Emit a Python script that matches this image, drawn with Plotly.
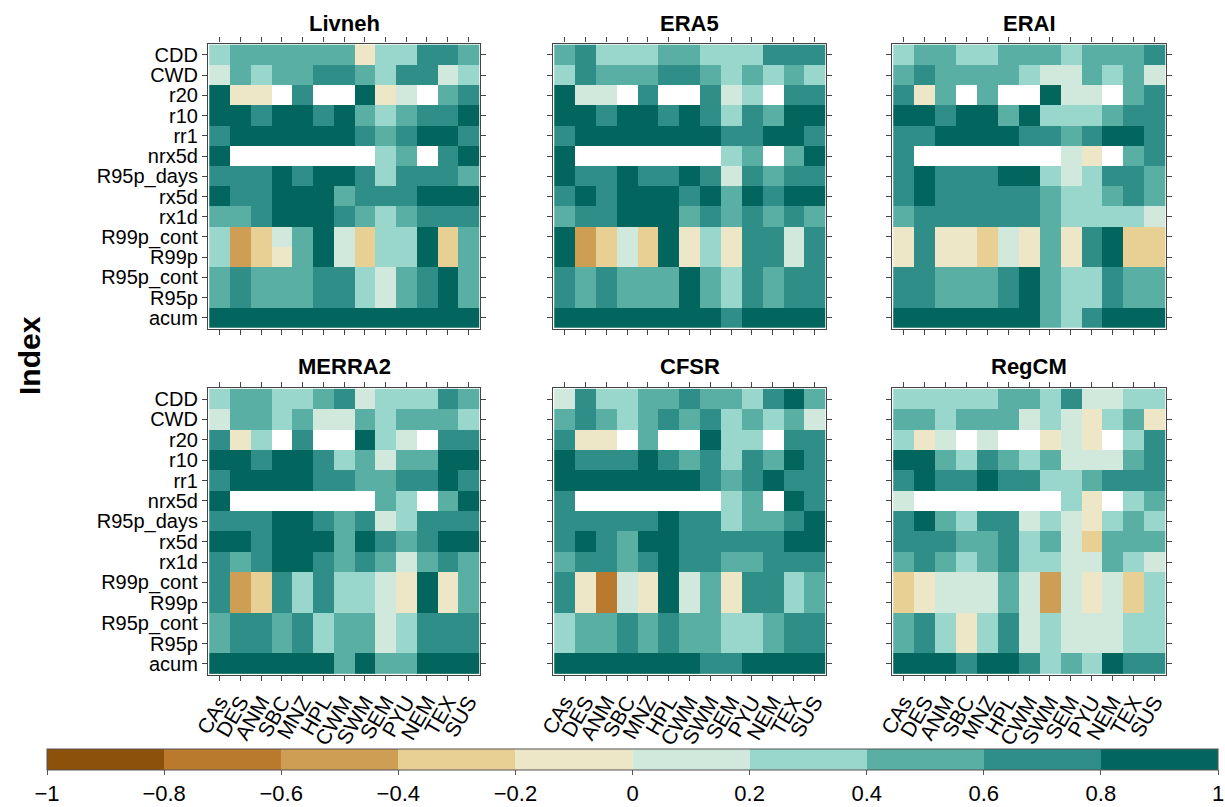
import plotly.graph_objects as go

# Climate indices (rows, top to bottom) and regions (columns)
indices = ["CDD", "CWD", "r20", "r10", "rr1", "nrx5d", "R95p_days", "rx5d",
           "rx1d", "R99p_cont", "R99p", "R95p_cont", "R95p", "acum"]
regions = ["CAs", "DES", "ANM", "SBC", "MNZ", "HPL", "CWM", "SWM", "SEM",
           "PYU", "NEM", "TEX", "SUS"]
datasets = ["Livneh", "ERA5", "ERAI", "MERRA2", "CFSR", "RegCM"]
N = None

livneh = [
    [0.3, 0.5, 0.5, 0.5, 0.5, 0.5, 0.5, -0.1, 0.3, 0.3, 0.7, 0.7, 0.5],
    [0.1, 0.5, 0.3, 0.5, 0.5, 0.7, 0.7, 0.5, 0.3, 0.7, 0.7, 0.1, 0.3],
    [0.9, -0.1, -0.1, N, 0.7, N, N, 0.9, -0.1, 0.1, N, 0.5, 0.7],
    [0.9, 0.9, 0.7, 0.9, 0.9, 0.7, 0.9, 0.5, 0.3, 0.5, 0.7, 0.7, 0.9],
    [0.7, 0.9, 0.9, 0.9, 0.9, 0.9, 0.9, 0.7, 0.5, 0.7, 0.9, 0.9, 0.7],
    [0.9, N, N, N, N, N, N, N, 0.3, 0.5, N, 0.7, 0.9],
    [0.7, 0.7, 0.7, 0.9, 0.7, 0.9, 0.9, 0.7, 0.3, 0.7, 0.7, 0.7, 0.5],
    [0.9, 0.7, 0.7, 0.9, 0.9, 0.9, 0.5, 0.7, 0.7, 0.7, 0.9, 0.9, 0.9],
    [0.5, 0.5, 0.7, 0.9, 0.9, 0.9, 0.7, 0.5, 0.3, 0.5, 0.7, 0.7, 0.7],
    [0.3, -0.5, -0.3, 0.1, 0.5, 0.9, 0.1, -0.3, 0.3, 0.3, 0.9, -0.3, 0.5],
    [0.3, -0.5, -0.3, -0.1, 0.5, 0.9, 0.1, -0.3, 0.3, 0.3, 0.9, -0.3, 0.5],
    [0.5, 0.7, 0.5, 0.5, 0.5, 0.7, 0.7, 0.3, 0.1, 0.5, 0.7, 0.9, 0.5],
    [0.5, 0.7, 0.5, 0.5, 0.5, 0.7, 0.7, 0.3, 0.1, 0.5, 0.7, 0.9, 0.5],
    [0.9, 0.9, 0.9, 0.9, 0.9, 0.9, 0.9, 0.9, 0.9, 0.9, 0.9, 0.9, 0.9],
]

era5 = [
    [0.5, 0.7, 0.3, 0.3, 0.3, 0.5, 0.5, 0.3, 0.3, 0.3, 0.7, 0.7, 0.7],
    [0.3, 0.7, 0.5, 0.5, 0.5, 0.7, 0.7, 0.5, 0.3, 0.5, 0.3, 0.5, 0.3],
    [0.9, 0.1, 0.1, N, 0.7, N, N, 0.7, 0.1, 0.3, N, 0.7, 0.7],
    [0.9, 0.9, 0.7, 0.9, 0.9, 0.7, 0.9, 0.7, 0.3, 0.7, 0.5, 0.9, 0.9],
    [0.7, 0.9, 0.9, 0.9, 0.9, 0.9, 0.9, 0.9, 0.7, 0.7, 0.9, 0.9, 0.7],
    [0.9, N, N, N, N, N, N, N, 0.3, 0.5, N, 0.5, 0.9],
    [0.9, 0.7, 0.7, 0.9, 0.7, 0.7, 0.9, 0.7, 0.1, 0.7, 0.5, 0.7, 0.7],
    [0.7, 0.9, 0.7, 0.9, 0.9, 0.9, 0.7, 0.9, 0.5, 0.9, 0.7, 0.9, 0.9],
    [0.5, 0.7, 0.7, 0.9, 0.9, 0.9, 0.5, 0.7, 0.5, 0.7, 0.5, 0.7, 0.5],
    [0.9, -0.5, -0.3, 0.1, -0.3, 0.9, -0.1, 0.3, -0.1, 0.7, 0.7, 0.1, 0.7],
    [0.9, -0.5, -0.3, 0.1, -0.3, 0.9, -0.1, 0.3, -0.1, 0.7, 0.7, 0.1, 0.7],
    [0.7, 0.5, 0.7, 0.5, 0.5, 0.5, 0.9, 0.5, 0.3, 0.7, 0.5, 0.7, 0.7],
    [0.7, 0.5, 0.7, 0.5, 0.5, 0.5, 0.9, 0.5, 0.3, 0.7, 0.5, 0.7, 0.7],
    [0.9, 0.9, 0.9, 0.9, 0.9, 0.9, 0.9, 0.9, 0.7, 0.9, 0.9, 0.9, 0.9],
]

erai = [
    [0.3, 0.5, 0.5, 0.3, 0.3, 0.5, 0.5, 0.5, 0.3, 0.5, 0.5, 0.5, 0.7],
    [0.5, 0.7, 0.5, 0.5, 0.5, 0.5, 0.3, 0.1, 0.1, 0.5, 0.3, 0.5, 0.1],
    [0.7, -0.1, 0.5, N, 0.5, N, N, 0.9, 0.1, 0.1, N, 0.5, 0.7],
    [0.9, 0.9, 0.7, 0.9, 0.9, 0.5, 0.9, 0.3, 0.3, 0.3, 0.5, 0.7, 0.7],
    [0.7, 0.7, 0.9, 0.9, 0.9, 0.9, 0.7, 0.7, 0.5, 0.7, 0.9, 0.9, 0.7],
    [0.7, N, N, N, N, N, N, N, 0.1, -0.1, N, 0.5, 0.7],
    [0.7, 0.9, 0.7, 0.7, 0.7, 0.9, 0.9, 0.3, 0.1, 0.3, 0.7, 0.7, 0.5],
    [0.7, 0.9, 0.7, 0.7, 0.7, 0.7, 0.7, 0.5, 0.3, 0.3, 0.5, 0.7, 0.5],
    [0.5, 0.7, 0.7, 0.7, 0.7, 0.7, 0.7, 0.5, 0.3, 0.3, 0.3, 0.3, 0.1],
    [-0.1, 0.7, -0.1, -0.1, -0.3, 0.1, -0.1, 0.5, -0.1, 0.7, 0.9, -0.3, -0.3],
    [-0.1, 0.7, -0.1, -0.1, -0.3, 0.1, -0.1, 0.5, -0.1, 0.7, 0.9, -0.3, -0.3],
    [0.7, 0.7, 0.5, 0.5, 0.5, 0.7, 0.9, 0.5, 0.3, 0.3, 0.7, 0.5, 0.5],
    [0.7, 0.7, 0.5, 0.5, 0.5, 0.7, 0.9, 0.5, 0.3, 0.3, 0.7, 0.5, 0.5],
    [0.9, 0.9, 0.9, 0.9, 0.9, 0.9, 0.9, 0.5, 0.3, 0.7, 0.9, 0.9, 0.9],
]

merra2 = [
    [0.3, 0.5, 0.5, 0.3, 0.3, 0.5, 0.7, 0.1, 0.3, 0.3, 0.3, 0.7, 0.5],
    [0.1, 0.5, 0.5, 0.3, 0.5, 0.1, 0.1, 0.5, 0.3, 0.5, 0.5, 0.5, 0.3],
    [0.7, -0.1, 0.3, N, 0.7, N, N, 0.9, 0.3, 0.1, N, 0.7, 0.7],
    [0.9, 0.9, 0.7, 0.9, 0.9, 0.7, 0.3, 0.5, 0.1, 0.5, 0.5, 0.9, 0.9],
    [0.7, 0.9, 0.9, 0.9, 0.9, 0.7, 0.7, 0.5, 0.5, 0.7, 0.7, 0.9, 0.7],
    [0.9, N, N, N, N, N, N, N, 0.5, 0.3, N, 0.5, 0.9],
    [0.7, 0.7, 0.7, 0.9, 0.9, 0.7, 0.5, 0.7, 0.1, 0.3, 0.7, 0.7, 0.7],
    [0.9, 0.9, 0.7, 0.9, 0.9, 0.9, 0.5, 0.9, 0.7, 0.5, 0.7, 0.9, 0.9],
    [0.7, 0.5, 0.7, 0.9, 0.9, 0.7, 0.5, 0.7, 0.5, 0.1, 0.5, 0.7, 0.5],
    [0.7, -0.5, -0.3, 0.7, 0.3, 0.7, 0.3, 0.3, 0.1, -0.1, 0.9, -0.1, 0.5],
    [0.7, -0.5, -0.3, 0.7, 0.3, 0.7, 0.3, 0.3, 0.1, -0.1, 0.9, -0.1, 0.5],
    [0.5, 0.7, 0.7, 0.5, 0.7, 0.3, 0.5, 0.5, 0.1, 0.3, 0.7, 0.7, 0.7],
    [0.5, 0.7, 0.7, 0.5, 0.7, 0.3, 0.5, 0.5, 0.1, 0.3, 0.7, 0.7, 0.7],
    [0.9, 0.9, 0.9, 0.9, 0.9, 0.9, 0.5, 0.9, 0.5, 0.5, 0.9, 0.9, 0.9],
]

cfsr = [
    [0.1, 0.7, 0.3, 0.3, 0.5, 0.5, 0.7, 0.5, 0.5, 0.3, 0.7, 0.9, 0.5],
    [0.5, 0.7, 0.5, 0.3, 0.5, 0.7, 0.5, 0.7, 0.3, 0.5, 0.3, 0.5, 0.1],
    [0.7, -0.1, -0.1, N, 0.5, N, N, 0.9, 0.3, 0.3, N, 0.7, 0.7],
    [0.9, 0.7, 0.7, 0.7, 0.9, 0.7, 0.5, 0.7, 0.3, 0.7, 0.5, 0.9, 0.7],
    [0.9, 0.9, 0.9, 0.9, 0.9, 0.9, 0.9, 0.7, 0.5, 0.7, 0.9, 0.7, 0.7],
    [0.7, N, N, N, N, N, N, N, 0.3, 0.5, N, 0.9, 0.7],
    [0.7, 0.7, 0.7, 0.7, 0.7, 0.9, 0.7, 0.7, 0.3, 0.5, 0.5, 0.7, 0.9],
    [0.7, 0.9, 0.7, 0.5, 0.9, 0.9, 0.7, 0.7, 0.7, 0.7, 0.7, 0.9, 0.9],
    [0.5, 0.7, 0.7, 0.5, 0.7, 0.9, 0.7, 0.7, 0.5, 0.5, 0.7, 0.7, 0.7],
    [0.7, -0.1, -0.7, 0.1, -0.1, 0.9, 0.1, 0.5, -0.1, 0.7, 0.7, 0.3, 0.5],
    [0.7, -0.1, -0.7, 0.1, -0.1, 0.9, 0.1, 0.5, -0.1, 0.7, 0.7, 0.3, 0.5],
    [0.3, 0.5, 0.5, 0.7, 0.5, 0.7, 0.5, 0.5, 0.3, 0.3, 0.5, 0.7, 0.7],
    [0.3, 0.5, 0.5, 0.7, 0.5, 0.7, 0.5, 0.5, 0.3, 0.3, 0.5, 0.7, 0.7],
    [0.9, 0.9, 0.9, 0.9, 0.9, 0.9, 0.9, 0.7, 0.7, 0.9, 0.9, 0.9, 0.9],
]

regcm = [
    [0.3, 0.3, 0.3, 0.3, 0.3, 0.5, 0.5, 0.3, 0.7, 0.1, 0.1, 0.3, 0.3],
    [0.5, 0.5, 0.3, 0.5, 0.5, 0.5, 0.1, 0.3, 0.1, -0.1, 0.3, 0.5, -0.1],
    [0.3, -0.1, 0.1, N, 0.1, N, N, -0.1, 0.1, -0.1, N, 0.3, 0.7],
    [0.9, 0.9, 0.5, 0.3, 0.7, 0.5, 0.3, 0.5, 0.1, 0.1, 0.1, 0.5, 0.7],
    [0.7, 0.9, 0.7, 0.7, 0.9, 0.7, 0.7, 0.3, 0.3, 0.5, 0.7, 0.7, 0.7],
    [0.1, N, N, N, N, N, N, N, 0.3, -0.1, N, 0.3, 0.5],
    [0.7, 0.9, 0.5, 0.3, 0.7, 0.7, 0.1, 0.3, 0.1, -0.1, 0.3, 0.5, 0.3],
    [0.7, 0.7, 0.7, 0.5, 0.5, 0.7, 0.3, 0.5, 0.1, -0.3, 0.5, 0.5, 0.5],
    [0.5, 0.7, 0.5, 0.3, 0.5, 0.7, 0.3, 0.3, 0.1, 0.1, 0.5, 0.3, 0.1],
    [-0.3, -0.1, 0.1, 0.1, 0.1, 0.5, 0.1, -0.5, 0.1, -0.1, 0.1, -0.3, 0.3],
    [-0.3, -0.1, 0.1, 0.1, 0.1, 0.5, 0.1, -0.5, 0.1, -0.1, 0.1, -0.3, 0.3],
    [0.5, 0.7, 0.3, -0.1, 0.3, 0.7, 0.1, 0.3, 0.1, 0.1, 0.1, 0.3, 0.3],
    [0.5, 0.7, 0.3, -0.1, 0.3, 0.7, 0.1, 0.3, 0.1, 0.1, 0.1, 0.3, 0.3],
    [0.9, 0.9, 0.9, 0.7, 0.9, 0.9, 0.7, 0.3, 0.5, 0.3, 0.9, 0.7, 0.7],
]

panels = [livneh, era5, erai, merra2, cfsr, regcm]

# Ten-class brown/blue-green diverging palette, from -1 to 1
bin_colors = ["#8c510a", "#b97a2d", "#cf9e55", "#e8cf94", "#ede7c8",
              "#d1e9dd", "#99d7cc", "#5aafa4", "#2f8f88", "#02665e"]
colorscale = []
for i, c in enumerate(bin_colors):
    colorscale.append([i / 10, c])
    colorscale.append([(i + 1) / 10, c])

W, H = 1225, 807
col_px = [(208, 480), (553, 826), (892, 1166)]
row_px = [(44, 333), (392, 683)]
title_y = [24, 371]
FONT = "Liberation Sans, Arial, sans-serif"

fig = go.Figure()
layout = dict(
    width=W, height=H, margin=dict(l=0, r=0, t=0, b=0),
    paper_bgcolor="white", plot_bgcolor="white",
    font=dict(family=FONT, color="black"),
    coloraxis=dict(
        colorscale=colorscale, cmin=-1, cmax=1,
        colorbar=dict(
            orientation="h", x=632.5 / W, xanchor="center",
            y=1 - 757 / H, yanchor="top", len=1171 / W, lenmode="fraction",
            thickness=21, xpad=0, ypad=0,
            outlinewidth=1, outlinecolor="#555",
            tickvals=[-1, -0.8, -0.6, -0.4, -0.2, 0, 0.2, 0.4, 0.6, 0.8, 1],
            ticks="outside", ticklen=5, tickcolor="#555",
            tickfont=dict(size=22, family=FONT),
        ),
    ),
    annotations=[],
)

for k, (name, z) in enumerate(zip(datasets, panels)):
    r, c = divmod(k, 3)
    ax = "" if k == 0 else str(k + 1)
    fig.add_trace(go.Heatmap(
        x=regions, y=indices, z=z, coloraxis="coloraxis",
        xaxis="x" + ax, yaxis="y" + ax, hoverongaps=False,
    ))
    x0, x1 = col_px[c]
    y0, y1 = row_px[r]
    layout["xaxis" + ax] = dict(
        domain=[x0 / W, x1 / W], anchor="y" + ax, type="category",
        categoryarray=regions, range=[-0.56, 12.56],
        tickmode="array", tickvals=regions, ticktext=regions,
        showline=True, linecolor="#444", linewidth=1.2, mirror="ticks",
        ticks="outside", ticklen=5, tickcolor="#444", showgrid=False,
        zeroline=False, showticklabels=(r == 1), tickangle=-60,
        tickfont=dict(size=21, family=FONT), automargin=False,
    )
    layout["yaxis" + ax] = dict(
        domain=[1 - y1 / H, 1 - y0 / H], anchor="x" + ax, type="category",
        categoryarray=indices, range=[13.56, -0.56],
        tickmode="array", tickvals=indices, ticktext=indices,
        showline=True, linecolor="#444", linewidth=1.2, mirror="ticks",
        ticks="outside", ticklen=5, tickcolor="#444", showgrid=False,
        zeroline=False, showticklabels=(c == 0),
        tickfont=dict(size=20, family=FONT), automargin=False,
    )
    layout["annotations"].append(dict(
        text="<b>%s</b>" % name, x=(x0 + x1) / 2 / W, y=1 - title_y[r] / H,
        xref="paper", yref="paper", xanchor="center", yanchor="middle",
        showarrow=False, font=dict(size=22, family=FONT),
    ))

layout["annotations"].append(dict(
    text="<b>Index</b>", x=30 / W, y=1 - 360 / H, xref="paper", yref="paper",
    xanchor="center", yanchor="middle", textangle=-90, showarrow=False,
    font=dict(size=30, family=FONT),
))

fig.update_layout(**layout)
fig.write_html("out.html")
